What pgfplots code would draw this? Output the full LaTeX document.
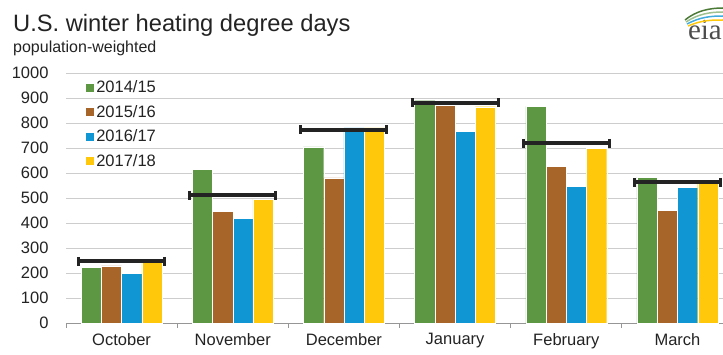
\documentclass[border=0pt]{standalone}
\usepackage{pgfplots}
\pgfplotsset{compat=1.18}
\usepackage{fontspec}
\setmainfont{Liberation Sans}
\newfontfamily\seriffont{Liberation Serif}
\definecolor{cgreen}{RGB}{94,151,68}
\definecolor{cbrown}{RGB}{168,101,41}
\definecolor{cblue}{RGB}{17,150,212}
\definecolor{cyellow}{RGB}{255,200,10}
\definecolor{cgrid}{RGB}{205,205,205}
\definecolor{caxis}{RGB}{150,150,150}
\definecolor{ctext}{RGB}{35,35,35}
\begin{document}
\begin{tikzpicture}
\useasboundingbox (-66pt,-31pt) rectangle (657pt,323pt);
\begin{axis}[
  at={(0pt,0pt)}, anchor=south west,
  scale only axis, width=657pt, height=250pt,
  xmin=-0.5, xmax=5.41, ymin=0, ymax=1000,
  ytick={0,100,...,1000},
  xtick={0,1,2,3,4,5},
  xticklabels={October,November,December,January,February,March},
  minor xtick={-0.5,0.5,1.5,2.5,3.5,4.5,5.5},
  major tick length=0pt, minor tick length=5pt, tick align=outside,
  minor tick style={caxis, line width=0.8pt},
  axis lines*=left,
  x axis line style={caxis, line width=0.8pt},
  y axis line style={draw=none},
  ymajorgrids, grid style={cgrid, line width=0.8pt},
  /pgf/number format/assume math mode=true,
  /pgf/number format/1000 sep={},
  ticklabel style={font=\fontsize{16.5}{18}\selectfont, text=ctext},
  yticklabel style={xshift=-14pt},
  xticklabel style={yshift=-7pt},
  ybar, bar width=0.182,
  legend style={at={(0.024,0.985)}, anchor=north west, draw=none, fill=none,
    font=\fontsize{16.5}{18}\selectfont, text=ctext, row sep=7pt,
    legend cell align=left},
  legend image code/.code={\fill[#1] (0pt,-4.5pt) rectangle (9pt,4.5pt);},
  clip=true,
]
\addplot[fill=cgreen, draw=white, line width=0.3pt, bar shift=-0.273] coordinates {(0,222) (1,615) (2,705) (3,889) (4,866) (5,584)};
\addlegendentry{2014/15}
\addplot[fill=cbrown, draw=white, line width=0.3pt, bar shift=-0.091] coordinates {(0,229) (1,447) (2,581) (3,870) (4,628) (5,451)};
\addlegendentry{2015/16}
\addplot[fill=cblue, draw=white, line width=0.3pt, bar shift=0.091] coordinates {(0,200) (1,419) (2,781) (3,766) (4,548) (5,544)};
\addlegendentry{2016/17}
\addplot[fill=cyellow, draw=white, line width=0.3pt, bar shift=0.273] coordinates {(0,242) (1,496) (2,781) (3,865) (4,699) (5,559)};
\addlegendentry{2017/18}
\addplot[forget plot, sharp plot, color=ctext, line width=3.8pt, unbounded coords=jump,
  mark=|, mark size=4.5pt, mark options={line width=3pt, solid}]
  coordinates {
   (-0.387,247) (0.387,247) (0.5,nan)
   (0.613,511) (1.387,511) (1.5,nan)
   (1.613,773) (2.387,773) (2.5,nan)
   (2.613,881) (3.387,881) (3.5,nan)
   (3.613,719) (4.387,719) (4.5,nan)
   (4.613,563) (5.387,563)
  };
\end{axis}
\node[anchor=base west, font=\fontsize{23.7}{28}\selectfont, text=ctext, inner sep=0pt] at (-53pt,291pt) {U.S. winter heating degree days};
\node[anchor=base west, font=\fontsize{16}{18}\selectfont, text=ctext, inner sep=0pt] at (-53pt,270.5pt) {population-weighted};
\node[anchor=base east, font=\seriffont\fontsize{29}{32}\selectfont, text=black!70, inner sep=0pt] at (656pt,283pt) {eia};
\draw[cgreen!80!black, line width=1.5pt] (619pt,303pt) .. controls (630pt,312pt) and (643pt,315pt) .. (657pt,315pt);
\draw[cgreen!60, line width=1.5pt] (620pt,301pt) .. controls (632pt,309pt) and (644pt,311pt) .. (657pt,311pt);
\draw[cblue!80, line width=1.5pt] (621pt,299pt) .. controls (634pt,306pt) and (645pt,307pt) .. (657pt,307pt);
\draw[cyellow, line width=1.5pt] (622pt,297pt) .. controls (636pt,303pt) and (646pt,303pt) .. (657pt,303pt);
\end{tikzpicture}
\end{document}
